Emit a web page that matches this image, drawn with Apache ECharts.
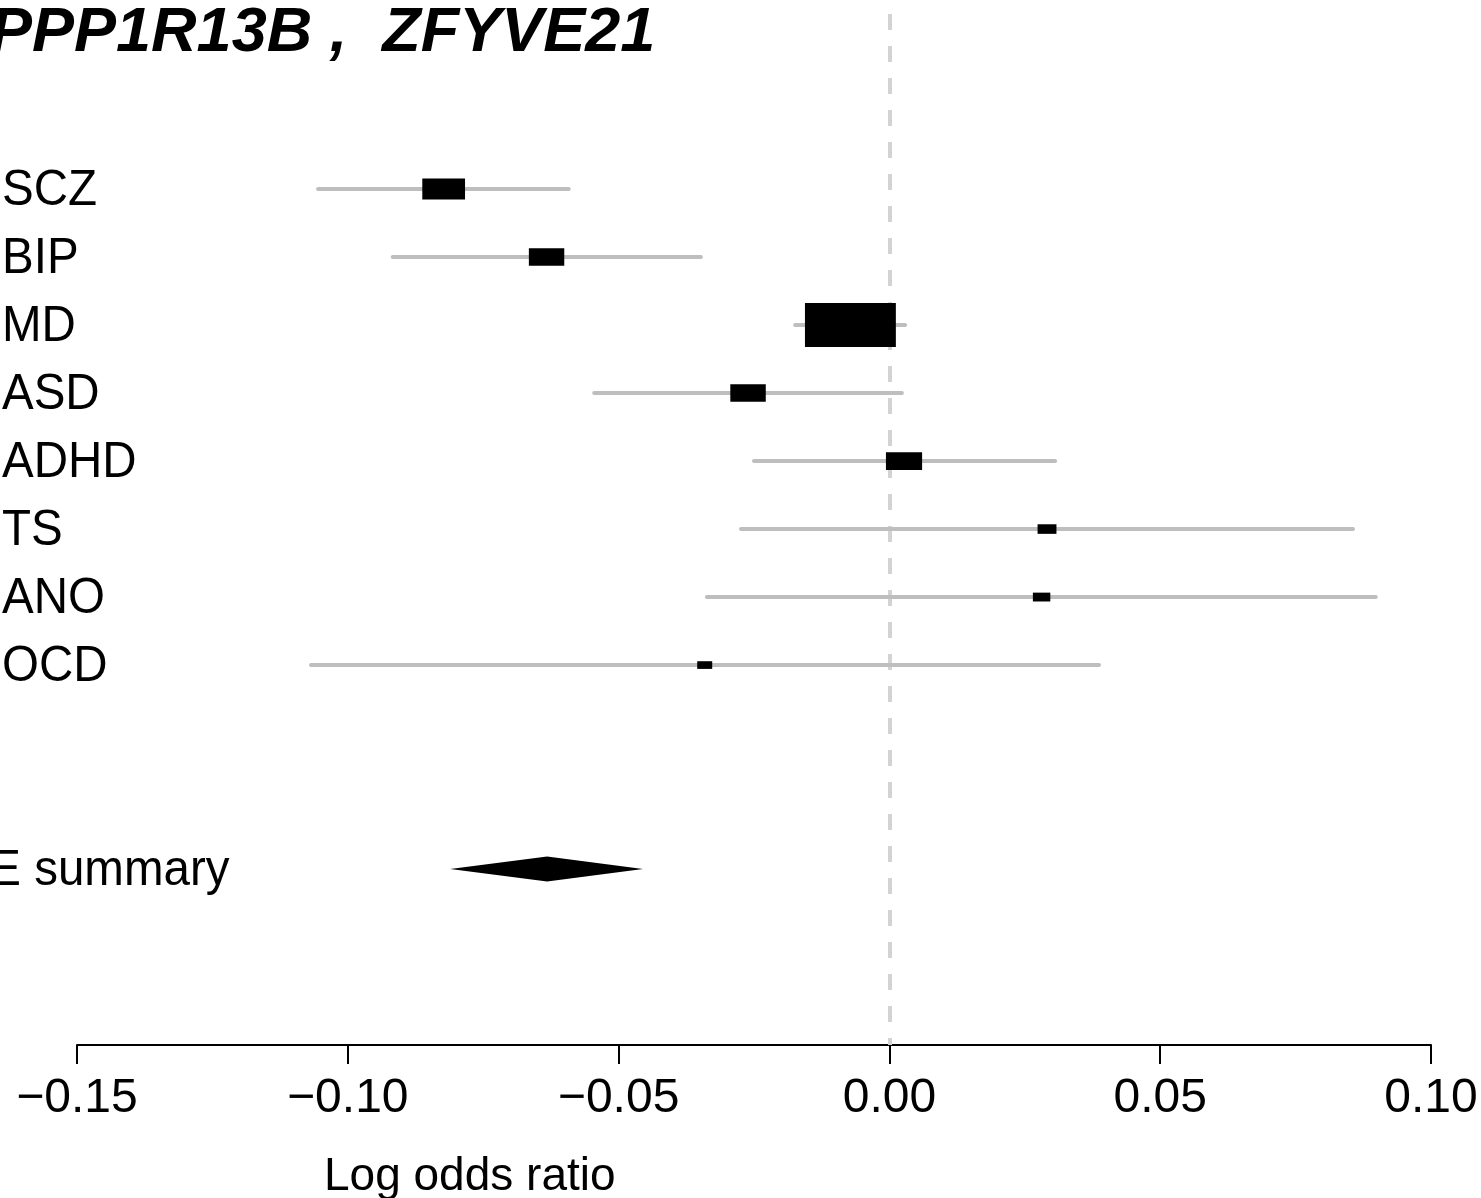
<!DOCTYPE html>
<html><head><meta charset="utf-8">
<script src="https://cdn.jsdelivr.net/npm/echarts@6/dist/echarts.min.js"></script>
<style>html,body{margin:0;padding:0;background:#fff}#c{width:1481px;height:1198px}</style>
</head><body><div id="c"></div>
<script>
// ---- data ----
const titleText = 'PPP1R13B ,  ZFYVE21';
const studies = ['SCZ', 'BIP', 'MD', 'ASD', 'ADHD', 'TS', 'ANO', 'OCD'];
const estimates = [-0.0823, -0.0633, -0.0072, -0.0261, 0.0027, 0.0291, 0.0281, -0.0341];
const lowerCI = [-0.1055, -0.0917, -0.0174, -0.0545, -0.0250, -0.0274, -0.0337, -0.1068];
const upperCI = [-0.0592, -0.0348, 0.0029, 0.0023, 0.0306, 0.0856, 0.0898, 0.0387];
const summaryLabel = 'RE summary';
const summaryValues = [-0.0811, -0.0632, -0.0455]; // lower, estimate, upper
const xTicks = [-0.15, -0.10, -0.05, 0.00, 0.05, 0.10];
const xAxisTitle = 'Log odds ratio';

const FONT = '"Liberation Sans", Arial, Helvetica, sans-serif';
const studyRows = studies.map((s, i) => i + 1);
const summaryRow = studies.length + 3;

const studyData = studies.map((s, i) => [studyRows[i], estimates[i], lowerCI[i], upperCI[i]]);
const summaryData = [[summaryRow, summaryValues[1], summaryValues[0], summaryValues[2]]];

function labelEl(text, x, y) {
  return { type: 'text', x: x, y: y + 2, scaleX: 0.95,
    style: { text: text, font: '50px ' + FONT, fill: '#000', align: 'left', verticalAlign: 'middle' } };
}

function renderStudy(params, api) {
  const idx = params.dataIndex;
  const row = api.value(0), est = api.value(1), lo = api.value(2), hi = api.value(3);
  const pE = api.coord([est, row]);
  const pL = api.coord([lo, row]);
  const pH = api.coord([hi, row]);
  // box size proportional to precision (inverse CI width)
  const w = 2.57 * Math.pow(hi - lo, -0.915);
  const h = 0.48 * w + 0.5;
  return {
    type: 'group',
    children: [
      { type: 'line', shape: { x1: pL[0], y1: pL[1], x2: pH[0], y2: pH[1] },
        style: { stroke: '#bebebe', lineWidth: 4, lineCap: 'round' } },
      { type: 'rect', shape: { x: pE[0] - w / 2, y: pE[1] - h / 2, width: w, height: h },
        style: { fill: '#000' } },
      labelEl(studies[idx], 2, pE[1])
    ]
  };
}

function renderSummary(params, api) {
  const row = api.value(0), est = api.value(1), lo = api.value(2), hi = api.value(3);
  const pE = api.coord([est, row]);
  const pL = api.coord([lo, row]);
  const pH = api.coord([hi, row]);
  const hh = 12.5;
  return {
    type: 'group',
    children: [
      { type: 'polygon', shape: { points: [[pL[0], pE[1]], [pE[0], pE[1] - hh], [pH[0], pE[1]], [pE[0], pE[1] + hh]] },
        style: { fill: '#000' } },
      labelEl(summaryLabel, -45, pE[1])
    ]
  };
}

const chart = echarts.init(document.getElementById('c'), null, { renderer: 'canvas' });
chart.setOption({
  animation: false,
  backgroundColor: '#fff',
  grid: { left: 77, right: 50, top: 14, bottom: 153 },
  xAxis: {
    type: 'value',
    min: xTicks[0], max: xTicks[xTicks.length - 1], interval: 0.05,
    splitLine: { show: false },
    axisLine: { show: true, onZero: false, lineStyle: { color: '#000', width: 2 } },
    axisTick: { show: true, length: 19, lineStyle: { color: '#000', width: 2 } },
    axisLabel: {
      fontSize: 48, fontFamily: FONT, color: '#000', margin: 30,
      formatter: v => (v < -1e-9 ? '\u2212' : '') + Math.abs(v).toFixed(2)
    }
  },
  yAxis: {
    type: 'value', inverse: true, min: -1.574, max: 13.587,
    show: false, splitLine: { show: false }
  },
  graphic: [
    { type: 'text', left: -10, top: 2, z: 10,
      style: { text: titleText, font: 'italic bold 63px ' + FONT, fill: '#000' } },
    { type: 'text', x: 324, y: 1177, z: 10,
      style: { text: xAxisTitle, font: '46px ' + FONT, fill: '#000', align: 'left', verticalAlign: 'middle' } }
  ],
  series: [
    {
      type: 'line', data: [], z: 1, silent: true,
      markLine: {
        silent: true, symbol: 'none', label: { show: false },
        lineStyle: { color: '#d3d3d3', width: 4, type: [16, 16] },
        data: [{ xAxis: 0 }]
      }
    },
    { type: 'custom', z: 5, data: studyData, renderItem: renderStudy, clip: false, encode: { x: [1, 2, 3], y: 0 } },
    { type: 'custom', z: 5, data: summaryData, renderItem: renderSummary, clip: false, encode: { x: [1, 2, 3], y: 0 } }
  ]
});
</script></body></html>
